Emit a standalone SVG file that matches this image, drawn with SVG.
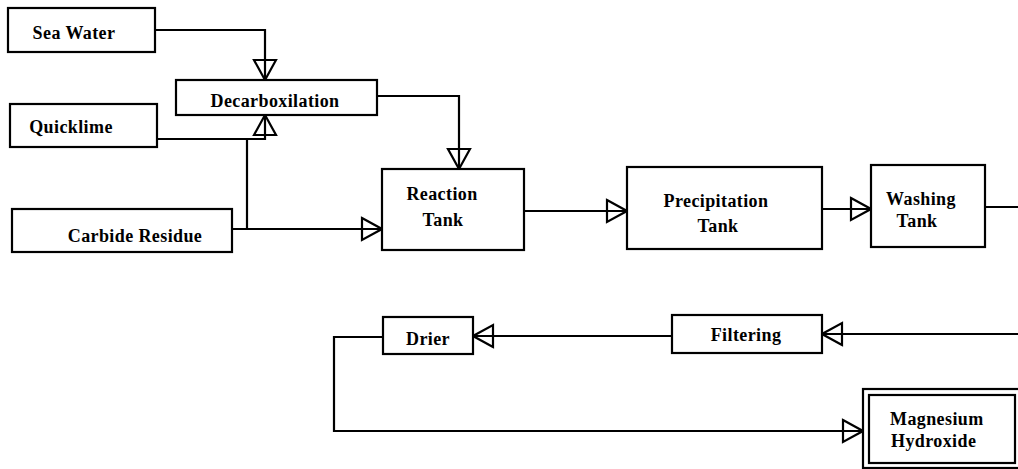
<svg xmlns="http://www.w3.org/2000/svg" width="1018" height="469" viewBox="0 0 1018 469">
  <style>
    .box { fill: #fff; stroke: #000; stroke-width: 2.2; }
    .lbl { font-family: "Liberation Serif", "Times New Roman", serif; font-weight: bold; font-size: 18px; letter-spacing: 0.4px; fill: #000; text-anchor: middle; }
    .left { text-anchor: start; }
    .wire { fill: none; stroke: #000; stroke-width: 2.2; }
    .arr { marker-end: url(#head); }
  </style>
  <defs>
    <!-- open triangular arrowhead; the wire stays visible through it -->
    <marker id="head" markerUnits="userSpaceOnUse" markerWidth="24" markerHeight="26" viewBox="-2 -2 24 26" refX="20" refY="11" orient="auto">
      <path d="M0,0 L20,11 L0,22 Z" fill="none" stroke="#000" stroke-width="2.2" stroke-linejoin="miter"/>
    </marker>
  </defs>

  <rect width="1018" height="469" fill="#fff"/>

  <!-- connectors -->
  <g id="connectors">
    <path class="wire arr" d="M155,30 H265 V80"/>
    <path class="wire arr" d="M157,139 H265 V115"/>
    <path class="wire" d="M247,229 V139"/>
    <path class="wire arr" d="M232,229 H382"/>
    <path class="wire arr" d="M377,96 H459 V169"/>
    <path class="wire arr" d="M524,211 H627"/>
    <path class="wire arr" d="M822,209 H871"/>
    <path class="wire" d="M985,207 H1018"/>
    <path class="wire arr" d="M1018,334 H822"/>
    <path class="wire arr" d="M672,336 H473"/>
    <path class="wire arr" d="M383,337 H334 V431 H863"/>
  </g>

  <g id="sea-water">
    <rect class="box" x="8" y="8" width="147" height="44"/>
    <text class="lbl" x="74" y="39">Sea Water</text>
  </g>

  <g id="decarboxilation">
    <rect class="box" x="176" y="80" width="201" height="35"/>
    <text class="lbl" x="275" y="107">Decarboxilation</text>
  </g>

  <g id="quicklime">
    <rect class="box" x="10" y="104" width="147" height="43"/>
    <text class="lbl" x="71" y="133">Quicklime</text>
  </g>

  <g id="carbide-residue">
    <rect class="box" x="12" y="209" width="220" height="43"/>
    <text class="lbl" x="135" y="242">Carbide Residue</text>
  </g>

  <g id="reaction-tank">
    <rect class="box" x="382" y="169" width="142" height="81"/>
    <text class="lbl" x="442" y="200">Reaction</text>
    <text class="lbl" x="443" y="226">Tank</text>
  </g>

  <g id="precipitation-tank">
    <rect class="box" x="627" y="167" width="195" height="82"/>
    <text class="lbl" x="716" y="207">Precipitation</text>
    <text class="lbl" x="718" y="232">Tank</text>
  </g>

  <g id="washing-tank">
    <rect class="box" x="871" y="165" width="114" height="82"/>
    <text class="lbl" x="921" y="205">Washing</text>
    <text class="lbl" x="917" y="227">Tank</text>
  </g>

  <g id="filtering">
    <rect class="box" x="672" y="315" width="150" height="38"/>
    <text class="lbl" x="746" y="341">Filtering</text>
  </g>

  <g id="drier">
    <rect class="box" x="383" y="317" width="90" height="37"/>
    <text class="lbl" x="428" y="345">Drier</text>
  </g>

  <g id="magnesium-hydroxide">
    <rect class="box" x="863" y="389" width="160" height="79" stroke-width="2.6"/>
    <rect class="box" x="869" y="395" width="146" height="68" stroke-width="1.6"/>
    <text class="lbl left" x="890" y="425">Magnesium</text>
    <text class="lbl left" x="891" y="447">Hydroxide</text>
  </g>
</svg>
